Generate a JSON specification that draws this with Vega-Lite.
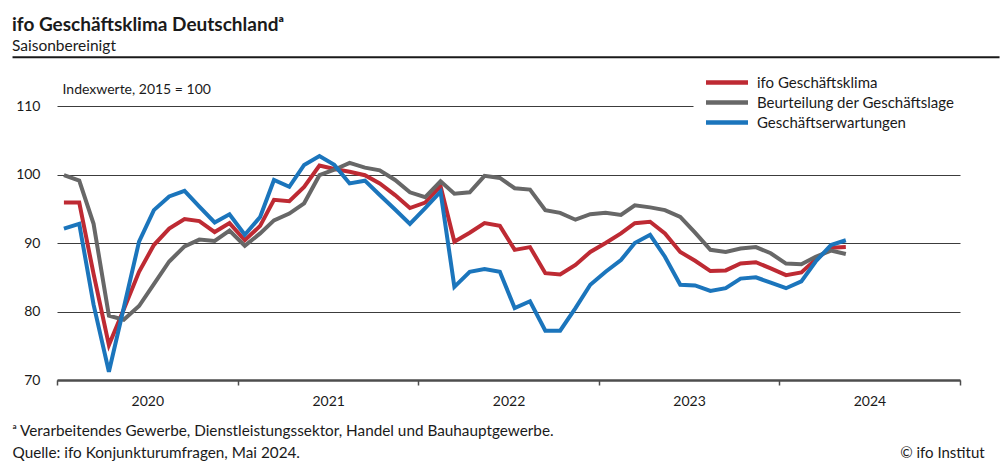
{
  "$schema": "https://vega.github.io/schema/vega-lite/v6.json",
  "width": 903,
  "height": 274,
  "autosize": "none",
  "padding": {"left": 57, "top": 106, "right": 46, "bottom": 96},
  "background": "white",
  "config": {"font": "Lato", "view": {"stroke": null}},
  "title": {
    "text": "ifo Geschäftsklima Deutschlandᵃ",
    "subtitle": "Saisonbereinigt",
    "anchor": "start",
    "frame": "group",
    "dx": -45,
    "dy": 2,
    "font": "Lato",
    "fontSize": 19,
    "fontWeight": "bold",
    "color": "#1a1a1a",
    "subtitleFont": "Lato",
    "subtitleFontSize": 15.5,
    "subtitleColor": "#1a1a1a",
    "subtitlePadding": 4
  },
  "layer": [
    {
      "data": {"values": [
        {"date":"2020-01-15","series":"ifo Geschäftsklima","value":95.9},
        {"date":"2020-02-15","series":"ifo Geschäftsklima","value":95.9},
        {"date":"2020-03-15","series":"ifo Geschäftsklima","value":85.5},
        {"date":"2020-04-15","series":"ifo Geschäftsklima","value":75.1},
        {"date":"2020-05-15","series":"ifo Geschäftsklima","value":80.3},
        {"date":"2020-06-15","series":"ifo Geschäftsklima","value":85.8},
        {"date":"2020-07-15","series":"ifo Geschäftsklima","value":89.7},
        {"date":"2020-08-15","series":"ifo Geschäftsklima","value":92.1},
        {"date":"2020-09-15","series":"ifo Geschäftsklima","value":93.5},
        {"date":"2020-10-15","series":"ifo Geschäftsklima","value":93.2},
        {"date":"2020-11-15","series":"ifo Geschäftsklima","value":91.6},
        {"date":"2020-12-15","series":"ifo Geschäftsklima","value":92.9},
        {"date":"2021-01-15","series":"ifo Geschäftsklima","value":90.4},
        {"date":"2021-02-15","series":"ifo Geschäftsklima","value":92.5},
        {"date":"2021-03-15","series":"ifo Geschäftsklima","value":96.3},
        {"date":"2021-04-15","series":"ifo Geschäftsklima","value":96.1},
        {"date":"2021-05-15","series":"ifo Geschäftsklima","value":98.2},
        {"date":"2021-06-15","series":"ifo Geschäftsklima","value":101.3},
        {"date":"2021-07-15","series":"ifo Geschäftsklima","value":100.8},
        {"date":"2021-08-15","series":"ifo Geschäftsklima","value":100.4},
        {"date":"2021-09-15","series":"ifo Geschäftsklima","value":99.9},
        {"date":"2021-10-15","series":"ifo Geschäftsklima","value":98.7},
        {"date":"2021-11-15","series":"ifo Geschäftsklima","value":97.0},
        {"date":"2021-12-15","series":"ifo Geschäftsklima","value":95.1},
        {"date":"2022-01-15","series":"ifo Geschäftsklima","value":95.9},
        {"date":"2022-02-15","series":"ifo Geschäftsklima","value":98.3},
        {"date":"2022-03-15","series":"ifo Geschäftsklima","value":90.2},
        {"date":"2022-04-15","series":"ifo Geschäftsklima","value":91.5},
        {"date":"2022-05-15","series":"ifo Geschäftsklima","value":92.9},
        {"date":"2022-06-15","series":"ifo Geschäftsklima","value":92.5},
        {"date":"2022-07-15","series":"ifo Geschäftsklima","value":89.0},
        {"date":"2022-08-15","series":"ifo Geschäftsklima","value":89.4},
        {"date":"2022-09-15","series":"ifo Geschäftsklima","value":85.6},
        {"date":"2022-10-15","series":"ifo Geschäftsklima","value":85.4},
        {"date":"2022-11-15","series":"ifo Geschäftsklima","value":86.8},
        {"date":"2022-12-15","series":"ifo Geschäftsklima","value":88.7},
        {"date":"2023-01-15","series":"ifo Geschäftsklima","value":90.0},
        {"date":"2023-02-15","series":"ifo Geschäftsklima","value":91.4},
        {"date":"2023-03-15","series":"ifo Geschäftsklima","value":92.9},
        {"date":"2023-04-15","series":"ifo Geschäftsklima","value":93.1},
        {"date":"2023-05-15","series":"ifo Geschäftsklima","value":91.4},
        {"date":"2023-06-15","series":"ifo Geschäftsklima","value":88.7},
        {"date":"2023-07-15","series":"ifo Geschäftsklima","value":87.4},
        {"date":"2023-08-15","series":"ifo Geschäftsklima","value":85.9},
        {"date":"2023-09-15","series":"ifo Geschäftsklima","value":86.0},
        {"date":"2023-10-15","series":"ifo Geschäftsklima","value":87.0},
        {"date":"2023-11-15","series":"ifo Geschäftsklima","value":87.2},
        {"date":"2023-12-15","series":"ifo Geschäftsklima","value":86.3},
        {"date":"2024-01-15","series":"ifo Geschäftsklima","value":85.3},
        {"date":"2024-02-15","series":"ifo Geschäftsklima","value":85.7},
        {"date":"2024-03-15","series":"ifo Geschäftsklima","value":87.6},
        {"date":"2024-04-15","series":"ifo Geschäftsklima","value":89.3},
        {"date":"2024-05-15","series":"ifo Geschäftsklima","value":89.4},
        {"date":"2020-01-15","series":"Beurteilung der Geschäftslage","value":99.9},
        {"date":"2020-02-15","series":"Beurteilung der Geschäftslage","value":99.1},
        {"date":"2020-03-15","series":"Beurteilung der Geschäftslage","value":92.8},
        {"date":"2020-04-15","series":"Beurteilung der Geschäftslage","value":79.4},
        {"date":"2020-05-15","series":"Beurteilung der Geschäftslage","value":78.8},
        {"date":"2020-06-15","series":"Beurteilung der Geschäftslage","value":80.8},
        {"date":"2020-07-15","series":"Beurteilung der Geschäftslage","value":84.0},
        {"date":"2020-08-15","series":"Beurteilung der Geschäftslage","value":87.3},
        {"date":"2020-09-15","series":"Beurteilung der Geschäftslage","value":89.5},
        {"date":"2020-10-15","series":"Beurteilung der Geschäftslage","value":90.5},
        {"date":"2020-11-15","series":"Beurteilung der Geschäftslage","value":90.3},
        {"date":"2020-12-15","series":"Beurteilung der Geschäftslage","value":91.8},
        {"date":"2021-01-15","series":"Beurteilung der Geschäftslage","value":89.6},
        {"date":"2021-02-15","series":"Beurteilung der Geschäftslage","value":91.4},
        {"date":"2021-03-15","series":"Beurteilung der Geschäftslage","value":93.3},
        {"date":"2021-04-15","series":"Beurteilung der Geschäftslage","value":94.3},
        {"date":"2021-05-15","series":"Beurteilung der Geschäftslage","value":95.8},
        {"date":"2021-06-15","series":"Beurteilung der Geschäftslage","value":99.9},
        {"date":"2021-07-15","series":"Beurteilung der Geschäftslage","value":100.7},
        {"date":"2021-08-15","series":"Beurteilung der Geschäftslage","value":101.7},
        {"date":"2021-09-15","series":"Beurteilung der Geschäftslage","value":101.0},
        {"date":"2021-10-15","series":"Beurteilung der Geschäftslage","value":100.6},
        {"date":"2021-11-15","series":"Beurteilung der Geschäftslage","value":99.2},
        {"date":"2021-12-15","series":"Beurteilung der Geschäftslage","value":97.4},
        {"date":"2022-01-15","series":"Beurteilung der Geschäftslage","value":96.7},
        {"date":"2022-02-15","series":"Beurteilung der Geschäftslage","value":99.0},
        {"date":"2022-03-15","series":"Beurteilung der Geschäftslage","value":97.2},
        {"date":"2022-04-15","series":"Beurteilung der Geschäftslage","value":97.4},
        {"date":"2022-05-15","series":"Beurteilung der Geschäftslage","value":99.8},
        {"date":"2022-06-15","series":"Beurteilung der Geschäftslage","value":99.5},
        {"date":"2022-07-15","series":"Beurteilung der Geschäftslage","value":98.0},
        {"date":"2022-08-15","series":"Beurteilung der Geschäftslage","value":97.8},
        {"date":"2022-09-15","series":"Beurteilung der Geschäftslage","value":94.8},
        {"date":"2022-10-15","series":"Beurteilung der Geschäftslage","value":94.4},
        {"date":"2022-11-15","series":"Beurteilung der Geschäftslage","value":93.4},
        {"date":"2022-12-15","series":"Beurteilung der Geschäftslage","value":94.2},
        {"date":"2023-01-15","series":"Beurteilung der Geschäftslage","value":94.4},
        {"date":"2023-02-15","series":"Beurteilung der Geschäftslage","value":94.1},
        {"date":"2023-03-15","series":"Beurteilung der Geschäftslage","value":95.5},
        {"date":"2023-04-15","series":"Beurteilung der Geschäftslage","value":95.2},
        {"date":"2023-05-15","series":"Beurteilung der Geschäftslage","value":94.8},
        {"date":"2023-06-15","series":"Beurteilung der Geschäftslage","value":93.8},
        {"date":"2023-07-15","series":"Beurteilung der Geschäftslage","value":91.5},
        {"date":"2023-08-15","series":"Beurteilung der Geschäftslage","value":89.0},
        {"date":"2023-09-15","series":"Beurteilung der Geschäftslage","value":88.7},
        {"date":"2023-10-15","series":"Beurteilung der Geschäftslage","value":89.2},
        {"date":"2023-11-15","series":"Beurteilung der Geschäftslage","value":89.4},
        {"date":"2023-12-15","series":"Beurteilung der Geschäftslage","value":88.5},
        {"date":"2024-01-15","series":"Beurteilung der Geschäftslage","value":87.0},
        {"date":"2024-02-15","series":"Beurteilung der Geschäftslage","value":86.9},
        {"date":"2024-03-15","series":"Beurteilung der Geschäftslage","value":88.0},
        {"date":"2024-04-15","series":"Beurteilung der Geschäftslage","value":88.9},
        {"date":"2024-05-15","series":"Beurteilung der Geschäftslage","value":88.4},
        {"date":"2020-01-15","series":"Geschäftserwartungen","value":92.1},
        {"date":"2020-02-15","series":"Geschäftserwartungen","value":92.8},
        {"date":"2020-03-15","series":"Geschäftserwartungen","value":81.0},
        {"date":"2020-04-15","series":"Geschäftserwartungen","value":71.2},
        {"date":"2020-05-15","series":"Geschäftserwartungen","value":80.5},
        {"date":"2020-06-15","series":"Geschäftserwartungen","value":90.2},
        {"date":"2020-07-15","series":"Geschäftserwartungen","value":94.8},
        {"date":"2020-08-15","series":"Geschäftserwartungen","value":96.8},
        {"date":"2020-09-15","series":"Geschäftserwartungen","value":97.6},
        {"date":"2020-10-15","series":"Geschäftserwartungen","value":95.3},
        {"date":"2020-11-15","series":"Geschäftserwartungen","value":93.0},
        {"date":"2020-12-15","series":"Geschäftserwartungen","value":94.2},
        {"date":"2021-01-15","series":"Geschäftserwartungen","value":91.2},
        {"date":"2021-02-15","series":"Geschäftserwartungen","value":93.8},
        {"date":"2021-03-15","series":"Geschäftserwartungen","value":99.2},
        {"date":"2021-04-15","series":"Geschäftserwartungen","value":98.2},
        {"date":"2021-05-15","series":"Geschäftserwartungen","value":101.4},
        {"date":"2021-06-15","series":"Geschäftserwartungen","value":102.7},
        {"date":"2021-07-15","series":"Geschäftserwartungen","value":101.4},
        {"date":"2021-08-15","series":"Geschäftserwartungen","value":98.7},
        {"date":"2021-09-15","series":"Geschäftserwartungen","value":99.1},
        {"date":"2021-10-15","series":"Geschäftserwartungen","value":97.0},
        {"date":"2021-11-15","series":"Geschäftserwartungen","value":94.9},
        {"date":"2021-12-15","series":"Geschäftserwartungen","value":92.8},
        {"date":"2022-01-15","series":"Geschäftserwartungen","value":95.1},
        {"date":"2022-02-15","series":"Geschäftserwartungen","value":97.5},
        {"date":"2022-03-15","series":"Geschäftserwartungen","value":83.6},
        {"date":"2022-04-15","series":"Geschäftserwartungen","value":85.8},
        {"date":"2022-05-15","series":"Geschäftserwartungen","value":86.2},
        {"date":"2022-06-15","series":"Geschäftserwartungen","value":85.8},
        {"date":"2022-07-15","series":"Geschäftserwartungen","value":80.5},
        {"date":"2022-08-15","series":"Geschäftserwartungen","value":81.5},
        {"date":"2022-09-15","series":"Geschäftserwartungen","value":77.2},
        {"date":"2022-10-15","series":"Geschäftserwartungen","value":77.2},
        {"date":"2022-11-15","series":"Geschäftserwartungen","value":80.5},
        {"date":"2022-12-15","series":"Geschäftserwartungen","value":83.9},
        {"date":"2023-01-15","series":"Geschäftserwartungen","value":85.8},
        {"date":"2023-02-15","series":"Geschäftserwartungen","value":87.5},
        {"date":"2023-03-15","series":"Geschäftserwartungen","value":90.0},
        {"date":"2023-04-15","series":"Geschäftserwartungen","value":91.2},
        {"date":"2023-05-15","series":"Geschäftserwartungen","value":88.0},
        {"date":"2023-06-15","series":"Geschäftserwartungen","value":83.9},
        {"date":"2023-07-15","series":"Geschäftserwartungen","value":83.8},
        {"date":"2023-08-15","series":"Geschäftserwartungen","value":83.0},
        {"date":"2023-09-15","series":"Geschäftserwartungen","value":83.4},
        {"date":"2023-10-15","series":"Geschäftserwartungen","value":84.8},
        {"date":"2023-11-15","series":"Geschäftserwartungen","value":85.0},
        {"date":"2023-12-15","series":"Geschäftserwartungen","value":84.2},
        {"date":"2024-01-15","series":"Geschäftserwartungen","value":83.4},
        {"date":"2024-02-15","series":"Geschäftserwartungen","value":84.4},
        {"date":"2024-03-15","series":"Geschäftserwartungen","value":87.3},
        {"date":"2024-04-15","series":"Geschäftserwartungen","value":89.7},
        {"date":"2024-05-15","series":"Geschäftserwartungen","value":90.4}
      ]},
      "mark": {"type": "line", "strokeWidth": 4, "strokeJoin": "miter", "strokeCap": "butt"},
      "encoding": {
        "x": {
          "field": "date",
          "type": "temporal",
          "scale": {
            "type": "utc",
            "domain": [
              {"year": 2020, "month": 1, "date": 1, "utc": true},
              {"year": 2025, "month": 1, "date": 1, "utc": true}
            ],
            "nice": false
          },
          "axis": {
            "values": [
              {"year": 2020, "month": 1, "date": 1, "utc": true},
              {"year": 2021, "month": 1, "date": 1, "utc": true},
              {"year": 2022, "month": 1, "date": 1, "utc": true},
              {"year": 2023, "month": 1, "date": 1, "utc": true},
              {"year": 2024, "month": 1, "date": 1, "utc": true},
              {"year": 2025, "month": 1, "date": 1, "utc": true}
            ],
            "grid": false,
            "domainColor": "#4d4d4d",
            "domainWidth": 2.5,
            "tickColor": "#4d4d4d",
            "tickWidth": 1.5,
            "tickSize": 5,
            "labelExpr": "utcyear(datum.value) < 2025 ? utcFormat(datum.value, '%Y') : ''",
            "labelOffset": 90.3,
            "labelPadding": 9.5,
            "labelFont": "Lato",
            "labelFontSize": 14,
            "labelColor": "#1a1a1a",
            "labelOverlap": false,
            "labelFlush": false,
            "labelBound": false,
            "title": ["ᵃ Verarbeitendes Gewerbe, Dienstleistungssektor, Handel und Bauhauptgewerbe.", "Quelle: ifo Konjunkturumfragen, Mai 2024."],
            "titleAnchor": "start",
            "titleAlign": "left",
            "titleBaseline": "alphabetic",
            "titleX": -45,
            "titleY": 55,
            "titleLineHeight": 22,
            "titleFont": "Lato",
            "titleFontSize": 15.3,
            "titleFontWeight": "normal",
            "titleColor": "#1a1a1a"
          }
        },
        "y": {
          "field": "value",
          "type": "quantitative",
          "scale": {"domain": [70, 110], "nice": false, "zero": false},
          "axis": {
            "values": [70, 80, 90, 100, 110],
            "domain": false,
            "ticks": false,
            "grid": true,
            "gridColor": "#3c3c3c",
            "gridWidth": 1,
            "labelPadding": 17,
            "labelFont": "Lato",
            "labelFontSize": 14,
            "labelColor": "#1a1a1a",
            "title": "Indexwerte, 2015 = 100",
            "titleAngle": 0,
            "titleX": 5,
            "titleY": -12.5,
            "titleAlign": "left",
            "titleBaseline": "alphabetic",
            "titleFont": "Lato",
            "titleFontSize": 14,
            "titleFontWeight": "normal",
            "titleColor": "#1a1a1a"
          }
        },
        "color": {
          "field": "series",
          "type": "nominal",
          "scale": {
            "domain": ["ifo Geschäftsklima", "Beurteilung der Geschäftslage", "Geschäftserwartungen"],
            "range": ["#be2a33", "#676767", "#1b75bc"]
          },
          "legend": {
            "orient": "none",
            "legendX": 636.5,
            "legendY": -43.3,
            "direction": "vertical",
            "title": null,
            "symbolType": "stroke",
            "symbolSize": 1764,
            "symbolStrokeWidth": 4.5,
            "clipHeight": 19.7,
            "labelFont": "Lato",
            "labelFontSize": 15,
            "labelColor": "#1a1a1a",
            "labelOffset": 6.5,
            "labelLimit": 400,
            "rowPadding": 0,
            "padding": 10,
            "fillColor": "white"
          }
        }
      }
    },
    {
      "data": {"values": [{}]},
      "mark": {"type": "rule", "color": "#1a1a1a", "strokeWidth": 2},
      "encoding": {
        "x": {"datum": {"year": 2019, "month": 10, "date": 3, "utc": true}, "type": "temporal"},
        "x2": {"datum": {"year": 2025, "month": 3, "date": 22, "utc": true}},
        "y": {"datum": 117.1, "type": "quantitative"}
      }
    },
    {
      "data": {"values": [{}]},
      "mark": {"type": "text", "align": "right", "baseline": "alphabetic", "font": "Lato", "fontSize": 15, "color": "#1a1a1a", "text": "© ifo Institut"},
      "encoding": {
        "x": {"datum": {"year": 2025, "month": 2, "date": 20, "utc": true}, "type": "temporal"},
        "y": {"datum": 58.6, "type": "quantitative"}
      }
    }
  ]
}
